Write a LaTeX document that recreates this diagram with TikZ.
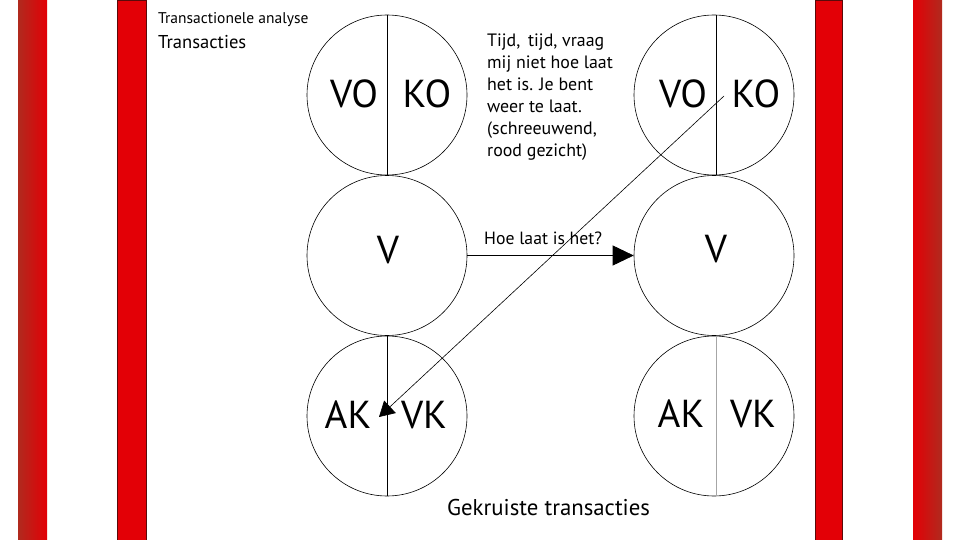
\documentclass[tikz,border=0pt]{standalone}
\usepackage{fontspec}
\setmainfont{PT Sans}
\usetikzlibrary{arrows.meta}
\definecolor{barred}{HTML}{E30006}
\definecolor{barbrown}{HTML}{B02A1E}
\definecolor{bardark}{HTML}{5A0A0A}
\tikzset{
  ego/.style={draw=black, line width=0.6pt, circle, minimum size=160pt, inner sep=0pt},
  divider/.style={draw=black, line width=0.6pt},
  big/.style={font=\fontsize{39}{39}\selectfont, inner sep=0pt, anchor=base},
  txt/.style={font=\fontsize{17.9}{22}\selectfont, inner sep=0pt, anchor=base west},
  conn/.style={draw=black, line width=0.7pt},
}
\begin{document}
\begin{tikzpicture}[x=1pt,y=-1pt]
\useasboundingbox (0,0) rectangle (960,540);
\fill[white] (0,0) rectangle (960,540);
% bars
\shade[left color=barbrown, right color=barred] (18,0) rectangle (47,540);
\filldraw[fill=barred, draw=bardark, line width=0.6pt] (117,0) rectangle (146,540);
\filldraw[fill=barred, draw=bardark, line width=0.6pt] (815,0) rectangle (842,540);
\shade[left color=barred, right color=barbrown] (913,0) rectangle (942,540);

% titles
\node[txt, font=\fontsize{15.5}{17}\selectfont] (t1) at (158,24) {Transactionele analyse};
\node[txt, font=\fontsize{18.6}{20}\selectfont] (t2) at (158,49) {Transacties};

% circles
\node[ego] (TL) at (387,95) {};
\node[ego] (ML) at (387,255.5) {};
\node[ego] (BL) at (387,416) {};
\node[ego] (TR) at (714,95) {};
\node[ego] (MR) at (714,255.5) {};
\node[ego] (BR) at (714,416) {};

% dividers
\draw[divider] (TL.north) -- (TL.south);
\draw[divider] (BL.north) -- (BL.south);
\draw[divider] ([xshift=2pt]TR.north) -- ([xshift=2pt]TR.south);
\draw[divider, draw=gray!70] ([xshift=2pt]BR.north) -- ([xshift=2pt]BR.south);

% labels in circles
\node[big] (vo1) at (354,108) {VO};
\node[big] (ko1) at (427,108) {KO};
\node[big] (v1) at (388,263) {V};
\node[big] (ak1) at (348,428) {AK};
\node[big] (vk1) at (424,428) {VK};
\node[big] (vo2) at (683,108) {VO};
\node[big] (ko2) at (756,108) {KO};
\node[big] (v2) at (716,262) {V};
\node[big] (ak2) at (681,427) {AK};
\node[big] (vk2) at (753,427) {VK};

% speech text
\node[txt] (s1) at (487,47) {Tijd,\, tijd, vraag};
\node[txt] (s2) at (487,69) {mij niet hoe laat};
\node[txt] (s3) at (487,91) {het is. Je bent};
\node[txt] (s4) at (487,113) {weer te laat.};
\node[txt] (s5) at (487,135) {(schreeuwend,};
\node[txt] (s6) at (487,157) {rood gezicht)};

\node[txt, font=\fontsize{17.7}{20}\selectfont] (q) at (484,244) {Hoe laat is het?};

% connectors
\draw[conn, -{Triangle[length=21pt,width=20pt]}] (ML.east) -- (MR.west);
\coordinate (dstart) at (724,96);
\coordinate (dend) at (379,417);
\draw[conn, line width=0.6pt, -{Triangle[length=15pt,width=17pt]}] (dstart) -- (dend);

% caption
\node[txt, font=\fontsize{22.8}{26}\selectfont] (cap) at (447,515) {Gekruiste transacties};
\end{tikzpicture}
\end{document}
